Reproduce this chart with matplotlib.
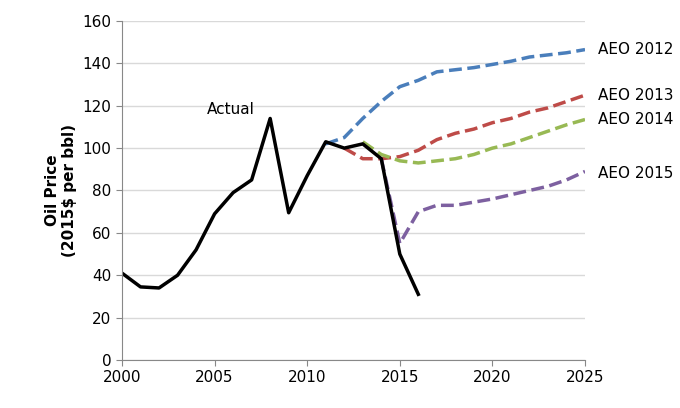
import matplotlib
matplotlib.use('Agg')
import matplotlib.pyplot as plt

actual_years = list(range(2000, 2017))
actual = [41, 34.5, 34, 40, 52, 69, 79, 85, 114, 69.5, 87, 103, 100, 102, 95, 50, 31]

aeo2012_years = list(range(2011, 2026))
aeo2012 = [102, 105, 114, 122, 129, 132, 136, 137, 138, 139.5, 141, 143, 144, 145, 146.5]
aeo2013_years = list(range(2012, 2026))
aeo2013 = [100, 95, 95, 96, 99, 104, 107, 109, 112, 114, 117, 119, 122, 125]
aeo2014_years = list(range(2013, 2026))
aeo2014 = [103, 97, 94, 93, 94, 95, 97, 100, 102, 105, 108, 111, 113.5]
aeo2015_years = list(range(2014, 2026))
aeo2015 = [95, 55, 70, 73, 73, 74.5, 76, 78, 80, 82, 85, 89]

fig = plt.figure(figsize=(6.8, 4.08), dpi=100)
ax = fig.add_axes([122 / 680, 48 / 408, 463 / 680, 339 / 408])

ax.plot(aeo2012_years, aeo2012, color='#4a7ebb', lw=2.5, ls='--')
ax.plot(aeo2013_years, aeo2013, color='#be4b48', lw=2.5, ls='--')
ax.plot(aeo2014_years, aeo2014, color='#98b954', lw=2.5, ls='--')
ax.plot(aeo2015_years, aeo2015, color='#7d60a0', lw=2.5, ls='--')
ax.plot(actual_years, actual, color='black', lw=2.5)

ax.set_xlim(2000, 2025)
ax.set_ylim(0, 160)
ax.set_xticks(range(2000, 2026, 5))
ax.set_yticks(range(0, 161, 20))
ax.yaxis.grid(True, color='#d9d9d9', lw=1)
ax.set_axisbelow(True)
for s in ['top', 'right']:
    ax.spines[s].set_visible(False)
ax.spines['left'].set_color('#888888')
ax.spines['bottom'].set_color('#888888')
ax.tick_params(labelsize=11, length=4, color='#888888')
ax.set_ylabel('Oil Price\n(2015$ per bbl)', fontsize=11, fontweight='bold')

ax.text(2004.6, 118, 'Actual', fontsize=11, va='center')
labels = [('AEO 2012', 146.5), ('AEO 2013', 125), ('AEO 2014', 113.5), ('AEO 2015', 88)]
for txt, y in labels:
    ax.text(2025.7, y, txt, fontsize=11, va='center', clip_on=False)

fig.savefig('out.png')
